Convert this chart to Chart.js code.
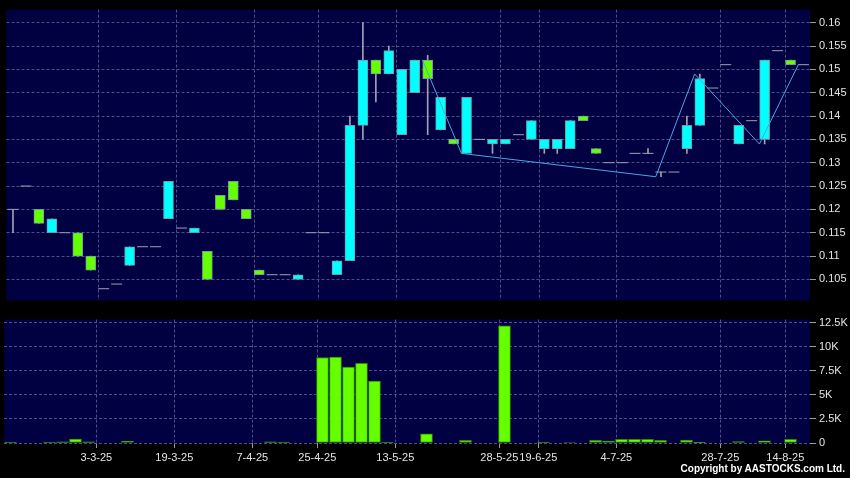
<!DOCTYPE html>
<html>
<head>
<meta charset="utf-8">
<title>Daily chart</title>
<script src="https://cdn.jsdelivr.net/npm/chart.js@4.4.1/dist/chart.umd.min.js"></script>
<style>
  html, body { margin: 0; padding: 0; background: #000; }
  #wrap { position: relative; width: 850px; height: 478px; overflow: hidden; background: #000; }
  #priceChart { position: absolute; left: 0; top: 0; }
  #volChart { position: absolute; left: 0; top: 310px; }
  #copy { position: absolute; right: 5px; top: 463px; color: #fff; font: bold 10px "Liberation Sans", Arial, sans-serif; white-space: nowrap; }
</style>
</head>
<body>
<div id="wrap">
  <canvas id="priceChart" width="850" height="310"></canvas>
  <canvas id="volChart" width="850" height="168"></canvas>
  <div id="copy">Copyright by AASTOCKS.com Ltd.</div>
</div>
<script>
'use strict';

// one entry per trading day shown on the chart
var openPrice = [0.120, 0.125, 0.120, 0.115, 0.115, 0.115, 0.110, 0.103, 0.104, 0.108,
                 0.112, 0.112, 0.118, 0.116, 0.115, 0.111, 0.123, 0.126, 0.120, 0.107,
                 0.106, 0.106, 0.105, 0.115, 0.115, 0.106, 0.109, 0.138, 0.152, 0.149,
                 0.136, 0.145, 0.152, 0.137, 0.135, 0.132, 0.135, 0.134, 0.134, 0.136,
                 0.135, 0.133, 0.133, 0.133, 0.140, 0.133, 0.130, 0.130, 0.132, 0.132,
                 0.128, 0.128, 0.133, 0.138, 0.146, 0.151, 0.134, 0.139, 0.135, 0.154,
                 0.152, 0.151];
var closePrice = [0.120, 0.125, 0.117, 0.118, 0.115, 0.110, 0.107, 0.103, 0.104, 0.112,
                  0.112, 0.112, 0.126, 0.116, 0.116, 0.105, 0.120, 0.122, 0.118, 0.106,
                  0.106, 0.106, 0.106, 0.115, 0.115, 0.109, 0.138, 0.152, 0.149, 0.154,
                  0.150, 0.152, 0.148, 0.144, 0.134, 0.144, 0.135, 0.135, 0.135, 0.136,
                  0.139, 0.135, 0.135, 0.139, 0.139, 0.132, 0.130, 0.130, 0.132, 0.132,
                  0.128, 0.128, 0.138, 0.148, 0.146, 0.151, 0.138, 0.139, 0.152, 0.154,
                  0.151, 0.151];
var highPrice = [0.120, 0.125, 0.120, 0.118, 0.115, 0.115, 0.110, 0.103, 0.104, 0.112,
                 0.112, 0.112, 0.126, 0.116, 0.116, 0.111, 0.123, 0.126, 0.120, 0.107,
                 0.106, 0.106, 0.106, 0.115, 0.115, 0.109, 0.140, 0.160, 0.152, 0.155,
                 0.150, 0.152, 0.153, 0.144, 0.135, 0.144, 0.135, 0.135, 0.135, 0.136,
                 0.139, 0.135, 0.135, 0.139, 0.140, 0.133, 0.130, 0.130, 0.132, 0.133,
                 0.128, 0.128, 0.140, 0.149, 0.146, 0.151, 0.138, 0.139, 0.152, 0.154,
                 0.152, 0.151];
var lowPrice = [0.115, 0.125, 0.117, 0.115, 0.115, 0.110, 0.107, 0.103, 0.104, 0.108,
                0.112, 0.112, 0.118, 0.116, 0.115, 0.105, 0.120, 0.122, 0.118, 0.106,
                0.106, 0.106, 0.105, 0.115, 0.115, 0.106, 0.109, 0.135, 0.143, 0.149,
                0.136, 0.145, 0.136, 0.137, 0.134, 0.132, 0.135, 0.132, 0.134, 0.136,
                0.135, 0.132, 0.132, 0.133, 0.139, 0.132, 0.130, 0.130, 0.132, 0.132,
                0.127, 0.128, 0.132, 0.138, 0.146, 0.151, 0.134, 0.139, 0.134, 0.154,
                0.151, 0.151];
var volume = [100, 0, 0, 100, 130, 410, 130, 0, 0, 200,
              0, 0, 0, 0, 0, 0, 0, 0, 0, 0,
              130, 100, 0, 0, 8900, 8950, 7900, 8300, 6450, 100,
              0, 0, 960, 0, 0, 270, 0, 0, 12200, 0,
              0, 100, 0, 50, 0, 270, 200, 370, 370, 370,
              270, 0, 300, 80, 0, 0, 150, 0, 230, 0,
              370, 0];

// date labels and the day they sit on
var tickIndex = [7, 13, 19, 24, 30, 38, 41, 47, 55, 60];
var tickLabels = ['3-3-25', '19-3-25', '7-4-25', '25-4-25', '13-5-25', '28-5-25', '19-6-25', '4-7-25', '28-7-25', '14-8-25'];
var priceTicks = [0.105, 0.11, 0.115, 0.12, 0.125, 0.13, 0.135, 0.14, 0.145, 0.15, 0.155, 0.16];
var volumeTicks = [0, 2500, 5000, 7500, 10000, 12500];

// zigzag turning points
var zigIndex = [32, 35, 50, 53, 58, 61];
var zigValue = [0.152, 0.132, 0.127, 0.149, 0.134, 0.151];

var PLOT_BG = '#000042';
var GRID = '#4f4f86';
var TXT = '#e4e4e4';
var UP = '#00ffff';
var DOWN = '#66ff00';
var EDGE = 0.4; // grid lines and zigzag sit on the left edge of a day

Chart.defaults.font.family = '"Liberation Sans", Arial, sans-serif';
Chart.defaults.font.size = 11;

var plotBackground = {
    id: 'plotBackground',
    beforeDraw: function (chart) {
        var a = chart.chartArea;
        var ctx = chart.ctx;
        ctx.save();
        ctx.fillStyle = PLOT_BG;
        ctx.fillRect(a.left, a.top, a.right - a.left, a.bottom - a.top);
        ctx.restore();
    }
};

function makeX(showLabels) {
    return {
        type: 'linear',
        min: -0.5,
        max: openPrice.length - 0.5,
        offset: false,
        afterBuildTicks: function (scale) {
            scale.ticks = tickIndex.map(function (i) { return { value: i - EDGE }; });
        },
        afterFit: function (scale) { scale.height = showLabels ? 35 : 0; },
        grid: { color: GRID, offset: false, drawTicks: showLabels, tickLength: 5, tickColor: '#9a9a9a' },
        border: { display: false, dash: [3, 2] },
        ticks: {
            display: showLabels,
            autoSkip: false,
            maxRotation: 0,
            color: TXT,
            padding: 3,
            callback: function (v, idx) { return tickLabels[idx]; }
        }
    };
}

function makeY(min, max, tickValues, fmt) {
    return {
        position: 'right',
        min: min,
        max: max,
        afterBuildTicks: function (scale) {
            scale.ticks = tickValues.map(function (v) { return { value: v }; });
        },
        afterFit: function (scale) { scale.width = 40; },
        grid: { color: GRID, tickLength: 6, tickColor: '#9a9a9a' },
        border: { display: false, dash: [3, 2] },
        ticks: { color: TXT, padding: 3, callback: fmt }
    };
}

// split the days into bodies, wicks and flat days
var bodies = [];
var bodyColors = [];
var wicks = [];
var flats = [];
for (var i = 0; i < openPrice.length; i++) {
    if (highPrice[i] > lowPrice[i]) {
        wicks.push({ x: i, y: [lowPrice[i], highPrice[i]] });
    }
    if (openPrice[i] === closePrice[i]) {
        flats.push({ x: i, y: openPrice[i] });
    } else {
        bodies.push({ x: i, y: [openPrice[i], closePrice[i]] });
        bodyColors.push(closePrice[i] > openPrice[i] ? UP : DOWN);
    }
}

var zigzag = [];
for (var z = 0; z < zigIndex.length; z++) {
    zigzag.push({ x: zigIndex[z] - EDGE, y: zigValue[z] });
}

var volBars = [];
for (var j = 0; j < volume.length; j++) {
    if (volume[j] > 0) {
        volBars.push({ x: j, y: volume[j] });
    }
}

new Chart(document.getElementById('priceChart'), {
    type: 'bar',
    data: {
        datasets: [
            { type: 'bar', data: wicks, backgroundColor: '#a0a0b4', borderWidth: 0, barThickness: 1, grouped: false, order: 4 },
            { type: 'bar', data: bodies, backgroundColor: bodyColors, borderColor: '#6e9ea4', borderWidth: 1, borderSkipped: false, barThickness: 10, grouped: false, order: 3 },
            { type: 'scatter', data: flats, pointStyle: 'line', pointRadius: 5.5, borderColor: '#a0a0b4', borderWidth: 1, order: 2 },
            { type: 'line', data: zigzag, borderColor: '#4aa6e6', borderWidth: 1, pointRadius: 0, tension: 0, order: 1 }
        ]
    },
    options: {
        responsive: false,
        animation: false,
        devicePixelRatio: 1,
        layout: { padding: { left: 4, top: 6, bottom: 5, right: 0 } },
        plugins: { legend: { display: false }, tooltip: { enabled: false } },
        scales: {
            x: makeX(false),
            y: makeY(0.1005, 0.1628, priceTicks, function (v) { return String(v); })
        }
    },
    plugins: [plotBackground]
});

new Chart(document.getElementById('volChart'), {
    type: 'bar',
    data: {
        datasets: [
            { data: volBars, backgroundColor: '#66ff00', borderColor: '#2e8a00', borderWidth: 1, borderSkipped: false, barThickness: 12, grouped: false }
        ]
    },
    options: {
        responsive: false,
        animation: false,
        devicePixelRatio: 1,
        layout: { padding: { left: 4, top: 8, bottom: 0, right: 0 } },
        plugins: { legend: { display: false }, tooltip: { enabled: false } },
        scales: {
            x: makeX(true),
            y: makeY(0, 12850, volumeTicks, function (v) { return v === 0 ? '0' : (v / 1000) + 'K'; })
        }
    },
    plugins: [plotBackground]
});
</script>
</body>
</html>
